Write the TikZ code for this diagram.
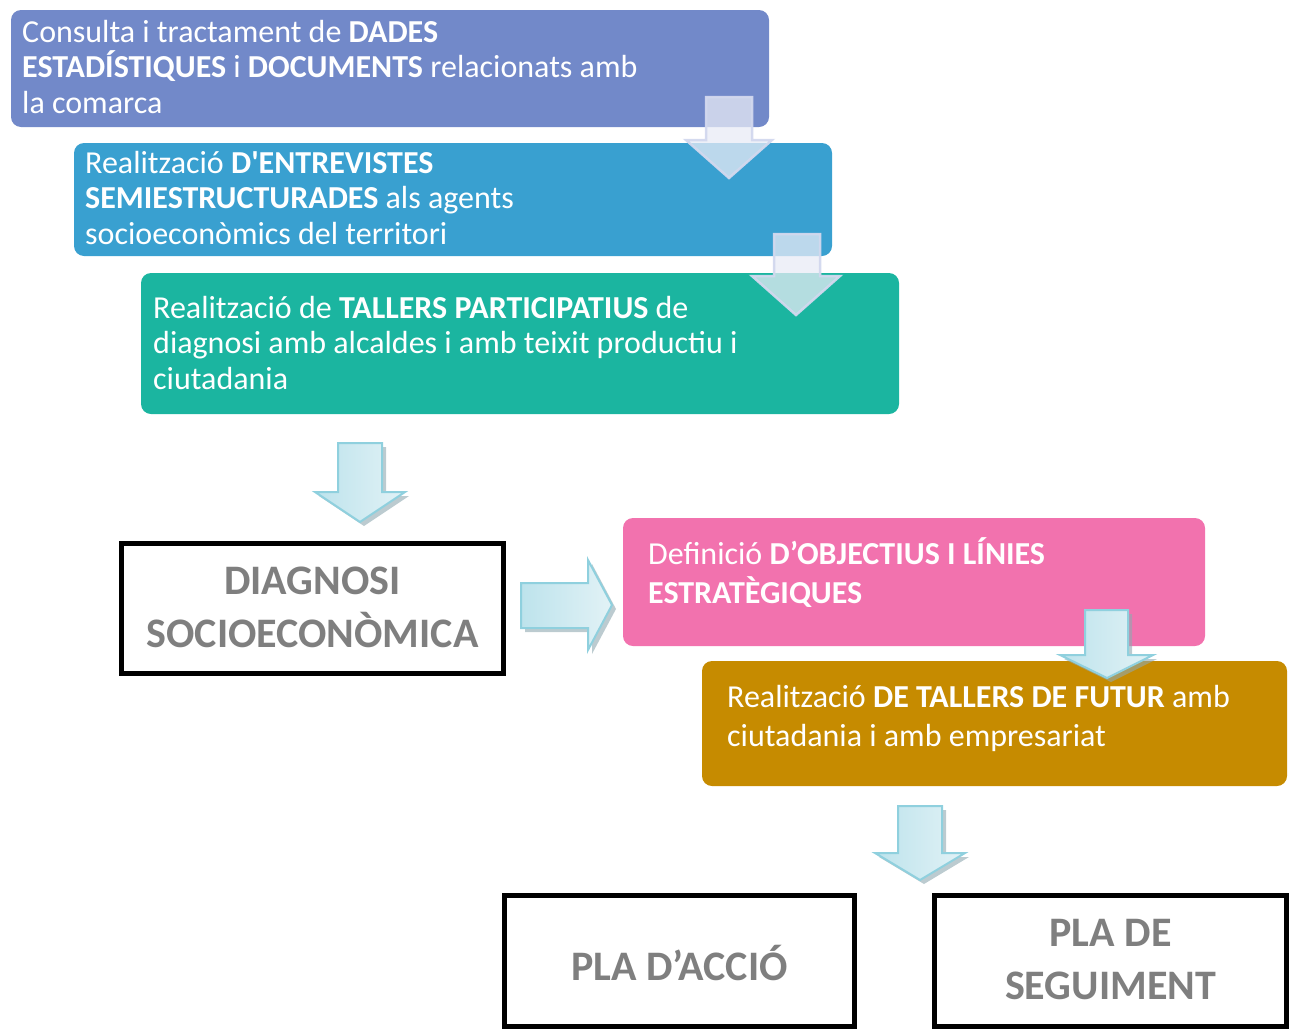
\documentclass[tikz,border=0pt]{standalone}
\usepackage{fontspec}
\setmainfont{Carlito}
\begin{document}
\begin{tikzpicture}[x=1pt,y=-1pt,
  box/.style={rounded corners=10pt, draw=none},
  btxt/.style={anchor=base west, inner sep=0pt, align=left, text=white, font=\fontsize{32}{35.5}\selectfont},
  btxtb/.style={anchor=base west, inner sep=0pt, align=left, text=white, font=\fontsize{32}{39}\selectfont},
  frame/.style={draw=black, line width=5pt, fill=white},
  big/.style={inner sep=0pt, align=center, text=bigGray, font=\fontsize{42}{53}\selectfont\bfseries},
  glassarrow/.style={fill=glassFill, fill opacity=0.75, draw=glassLine, draw opacity=0.95, line width=2.5pt, line join=miter},
  bluearrow/.style={left color=arrLeft, right color=arrRight, draw=arrLine, line width=2pt, line join=miter},
  arrshadow/.style={fill=arrShadow, draw=none, opacity=0.6}
]
\definecolor{cA}{HTML}{7289C9}
\definecolor{cB}{HTML}{39A0D0}
\definecolor{cC}{HTML}{1BB5A0}
\definecolor{cD}{HTML}{F272AE}
\definecolor{cE}{HTML}{C68B00}
\definecolor{bigGray}{HTML}{7F7F7F}
\definecolor{glassFill}{HTML}{E8EBF6}
\definecolor{glassLine}{HTML}{D2D8EE}
\definecolor{arrLeft}{HTML}{BDE3EC}
\definecolor{arrRight}{HTML}{E2F2F6}
\definecolor{arrLine}{HTML}{8FD0DE}
\definecolor{arrShadow}{HTML}{8FA9B0}

\useasboundingbox (0,0) rectangle (1298,1028);

% boxes
\fill[box, cA] (11,10) rectangle (769,127);
\fill[box, cB] (74,143) rectangle (832,256);
\fill[box, cC] (141,273) rectangle (899,414);
\fill[box, cD] (623,518) rectangle (1205,646);
\fill[box, cE] (702,661) rectangle (1287,786);

% (base anchor = baseline of the last line)
\node[btxt] (tA) at (22,113) {Consulta i tractament de \textbf{DADES}\\\textbf{ESTADÍSTIQUES} i \textbf{DOCUMENTS} relacionats amb\\la comarca};
\node[btxt] (tB) at (85,244) {Realització \textbf{D\textquotesingle ENTREVISTES}\\\textbf{SEMIESTRUCTURADES} als agents\\socioeconòmics del territori};
\node[btxt] (tC) at (153,389) {Realització de \textbf{TALLERS PARTICIPATIUS} de\\diagnosi amb alcaldes i amb teixit productiu i\\ciutadania};

% glass arrows
\path[glassarrow] (706,97) -- (752,97) -- (752,140) -- (772,140) -- (729,178) -- (686,140) -- (706,140) -- cycle;
\path[glassarrow] (774,234) -- (820,234) -- (820,276) -- (840,276) -- (796,315) -- (752,276) -- (774,276) -- cycle;

\node[btxtb] (tD) at (648,603) {Definició \textbf{D’OBJECTIUS I LÍNIES}\\\textbf{ESTRATÈGIQUES}};
\node[btxtb] (tE) at (727,746) {Realització \textbf{DE TALLERS DE FUTUR} amb\\ciutadania i amb empresariat};

% frames
\draw[frame] (121.5,543.5) rectangle (503.5,673.5);
\node[big] (diag) at (312.5,607) {DIAGNOSI\\SOCIOECONÒMICA};
\draw[frame] (504.5,895.5) rectangle (854.5,1026);
\node[big] (acc) at (679.5,963) {PLA D’ACCIÓ};
\draw[frame] (934.5,895.5) rectangle (1286.5,1026);
\node[big] (seg) at (1110.5,960) {PLA DE\\SEGUIMENT};

% blue arrows (with shadows)
\fill[arrshadow] (342,447) -- (386,447) -- (386,496) -- (409,496) -- (364,526) -- (319,496) -- (342,496) -- cycle;
\path[bluearrow] (338,443) -- (382,443) -- (382,492) -- (405,492) -- (360,522) -- (315,492) -- (338,492) -- cycle;

\fill[arrshadow] (525,587) -- (592,587) -- (592,564) -- (616,609) -- (592,654) -- (592,632) -- (525,632) -- cycle;
\path[bluearrow] (521,583) -- (588,583) -- (588,560) -- (612,605) -- (588,650) -- (588,628) -- (521,628) -- cycle;

\fill[arrshadow] (1089,614) -- (1132,614) -- (1132,659) -- (1157,659) -- (1111,682) -- (1064,659) -- (1089,659) -- cycle;
\path[bluearrow] (1085,610) -- (1128,610) -- (1128,655) -- (1153,655) -- (1107,678) -- (1060,655) -- (1085,655) -- cycle;

\fill[arrshadow] (902,810) -- (946,810) -- (946,857) -- (969,857) -- (924,884) -- (879,857) -- (902,857) -- cycle;
\path[bluearrow] (898,806) -- (942,806) -- (942,853) -- (965,853) -- (920,880) -- (875,853) -- (898,853) -- cycle;

\end{tikzpicture}
\end{document}
